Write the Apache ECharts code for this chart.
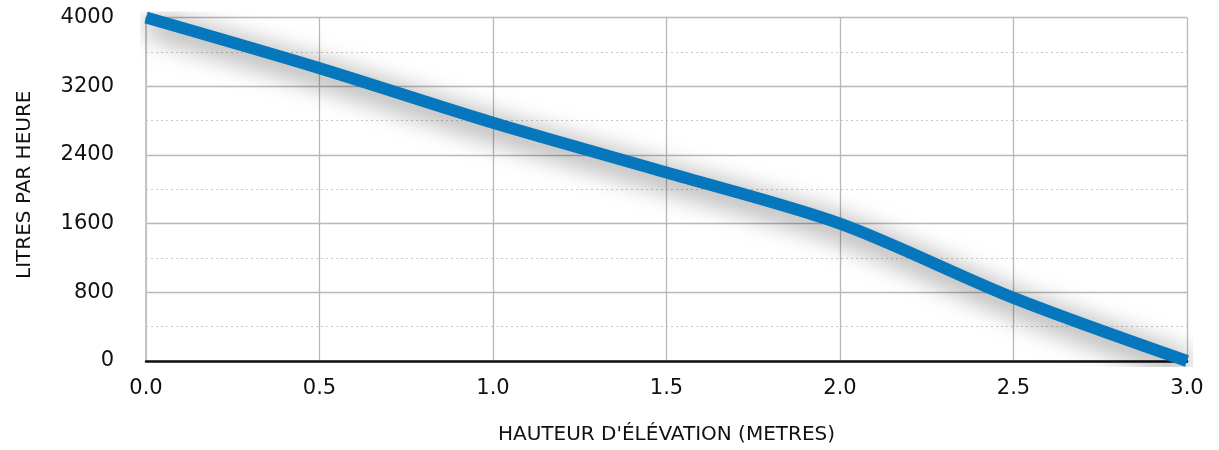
<!DOCTYPE html>
<html><head><meta charset="utf-8">
<script src="https://cdn.jsdelivr.net/npm/echarts@6/dist/echarts.min.js"></script>
<style>html,body{margin:0;padding:0;background:#fff}#c{width:1219px;height:450px}</style>
</head><body><div id="c"></div>
<script>
var heights = [0.0, 0.5, 1.0, 1.5, 2.0, 2.5, 3.0];
var flows = [4000, 3410, 2775, 2195, 1600, 735, 0];
var xTicks = ['0.0','0.5','1.0','1.5','2.0','2.5','3.0'];
var yTicks = [0, 800, 1600, 2400, 3200, 4000];
var xName = "HAUTEUR D'ÉLÉVATION (METRES)";
var yName = 'LITRES PAR HEURE';

var chart = echarts.init(document.getElementById('c'));
var font = '"DejaVu Sans", sans-serif';
chart.setOption({
  animation: false,
  grid: {left: 146, right: 32, top: 17.5, bottom: 88.5},
  xAxis: {
    type: 'value', min: 0, max: 3, interval: 0.5,
    name: xName, nameLocation: 'middle', nameGap: 64,
    nameTextStyle: {color: '#111', fontSize: 20, fontFamily: font},
    axisLine: {show: true, onZero: false, lineStyle: {color: '#111', width: 2.5}},
    axisTick: {show: false},
    axisLabel: {color: '#111', fontSize: 21, fontFamily: font, margin: 17,
      formatter: function(v){ var i = Math.round(v / 0.5); return xTicks[i] || v.toFixed(1); }},
    splitLine: {show: true, lineStyle: {color: '#b8b8b8', width: 1.3}}
  },
  yAxis: {
    type: 'value', min: 0, max: 4000, interval: 800,
    name: yName, nameLocation: 'middle', nameGap: 111, nameRotate: 90,
    nameTextStyle: {color: '#111', fontSize: 20, fontFamily: font, padding: [0, 0, 0, 9]},
    axisLine: {show: true, lineStyle: {color: '#c4c4c4', width: 2}},
    axisTick: {show: false},
    axisLabel: {color: '#111', fontSize: 21, fontFamily: font, margin: 32,
      formatter: function(v){ return String(v); }},
    splitLine: {show: true, lineStyle: {color: '#b8b8b8', width: 1.3}},
    minorTick: {show: false, splitNumber: 2},
    minorSplitLine: {show: true, lineStyle: {color: '#c8c8c8', width: 1, type: [2, 3]}}
  },
  series: [{
    type: 'line', smooth: 0.3, symbol: 'none',
    data: heights.map(function(h, i){ return [h, flows[i]]; }),
    lineStyle: {color: '#0777bd', width: 12, cap: 'butt',
      shadowColor: 'rgba(0,0,0,0.6)', shadowBlur: 28, shadowOffsetX: 2, shadowOffsetY: 6}
  }]
});
</script></body></html>
